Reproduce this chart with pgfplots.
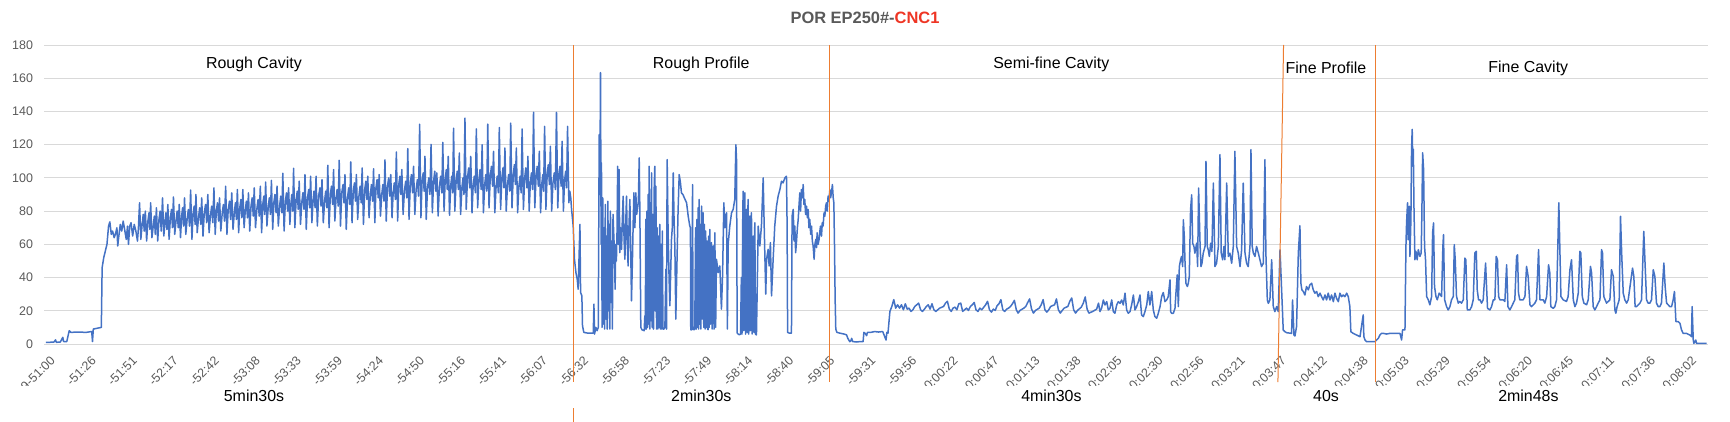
\documentclass[border=0pt]{standalone}
\usepackage{fontspec}
\setmainfont{Liberation Sans}
\usepackage{pgfplots}
\pgfplotsset{compat=1.18}
\definecolor{lineblue}{HTML}{4472C4}
\definecolor{sepor}{HTML}{ED7D31}
\definecolor{gridgray}{HTML}{D9D9D9}
\definecolor{tickgray}{HTML}{595959}
\definecolor{titlered}{HTML}{EE3524}
\begin{document}
\begin{tikzpicture}
\path[use as bounding box] (0,0) rectangle (1730bp,422bp);
\begin{axis}[
  at={(44bp,78bp)}, anchor=south west,
  scale only axis, width=1663.7bp, height=299bp,
  xmin=-1.2, xmax=1034.7, ymin=0, ymax=180,
  ytick={0,20,...,180},
  ymajorgrids, grid style={gridgray, line width=0.8bp},
  axis line style={draw=none},
  major tick length=0pt,
  tick label style={font=\fontsize{12.5}{14}\selectfont, text=tickgray},
  yticklabel style={xshift=-7.5bp},
  /pgf/number format/assume math mode=true,
  xtick={0,25.55,51.1,76.65,102.2,127.75,153.3,178.85,204.4,229.95,255.5,281.05,306.6,332.15,357.7,383.25,408.8,434.35,459.9,485.45,511,536.55,562.1,587.65,613.2,638.75,664.3,689.85,715.4,740.95,766.5,792.05,817.6,843.15,868.7,894.25,919.8,945.35,970.9,996.45,1022},
  xticklabels={9-51:00,-51:26,-51:51,-52:17,-52:42,-53:08,-53:33,-53:59,-54:24,-54:50,-55:16,-55:41,-56:07,-56:32,-56:58,-57:23,-57:49,-58:14,-58:40,-59:05,-59:31,-59:56,0:00:22,0:00:47,0:01:13,0:01:38,0:02:05,0:02:30,0:02:56,0:03:21,0:03:47,0:04:12,0:04:38,0:05:03,0:05:29,0:05:54,0:06:20,0:06:45,0:07:11,0:07:36,0:08:02},
  xticklabel style={rotate=45, anchor=east, xshift=-2bp, yshift=-15bp, font=\fontsize{12.5}{14}\selectfont, text=tickgray},
  clip=false,
]
\addplot[lineblue, line width=1.5bp, line join=round] coordinates {
(0,1) (2,1) (5,1.2) (6,2.5) (6.5,1) (9,1.2) (10.5,4) (11,1.5) (13,1.5) (14.5,8) (15.5,7) (20,7.2) (25,7) (28.5,7.5) (29,1.5) (29.5,9) (32,9.5) (34.5,10) (35,46) (36,52) (37,56) (38,60) (39,71) (39.8,73.5) (40.7,66) (41.5,68) (42.5,64) (43.5,67) (44.2,70) (44.7,59) (45.4,65) (46.3,72) (47.2,68) (48.1,74) (49,69) (50,63) (50.8,71) (51.4,60) (52.2,71) (53,73) (54,65) (55,72) (56,68) (57,62) (57.6,70)
(58.3,85) (59.1,63) (59.9,72) (60.6,78) (61.2,68) (61.9,80) (62.7,62) (63.5,74) (64.2,79) (64.7,69) (65.2,85) (66.0,64) (66.8,71) (67.5,77) (68.1,66) (68.8,82) (69.6,62) (70.4,75) (71.1,80) (71.8,68)
(72.6,88) (73.4,65) (74.1,73) (74.7,79) (75.3,69) (75.9,84) (76.7,63) (77.5,76) (78.2,81) (78.8,70) (79.4,88.5) (80.2,66) (81.0,74) (81.7,80) (82.4,70) (83.0,84) (83.8,64) (84.5,77) (85.1,82) (85.7,71)
(86.3,88) (87.1,66) (87.9,75) (88.7,81) (89.4,71) (90.1,92.7) (90.9,63) (91.6,78) (92.3,83) (92.9,72) (93.4,90) (94.2,67) (95.0,76) (95.7,82) (96.4,72) (97.0,88) (97.8,65) (98.6,79) (99.4,84) (100.1,73)
(100.8,90) (101.6,67) (102.4,77) (103.2,83) (103.9,73) (104.6,94) (105.4,66) (106.1,80) (106.8,85) (107.5,74) (108.1,88) (108.9,68) (109.7,78) (110.5,84) (111.2,74) (111.9,95) (112.7,66) (113.5,81) (114.3,86) (115.0,75)
(115.7,91) (116.5,69) (117.3,79) (118.0,85) (118.6,75) (119.2,93) (120.0,67) (120.7,82) (121.4,87) (122.0,76) (122.6,93) (123.4,70) (124.1,80) (124.8,86) (125.5,76) (126.1,91) (126.9,68) (127.7,83) (128.4,88) (129.1,77)
(129.7,94) (130.5,70) (131.3,81) (132.1,87) (132.8,77) (133.5,95) (134.3,67) (135.0,84) (135.7,89) (136.2,78) (136.8,97.5) (137.6,71) (138.4,82) (139.1,88) (139.8,78) (140.4,98.5) (141.2,69) (141.9,85) (142.6,90) (143.3,79)
(143.9,95) (144.7,71) (145.5,83) (146.2,89) (146.9,79) (147.5,102.8) (148.3,68) (149.1,86) (149.8,91) (150.5,80) (151.1,94) (151.9,72) (152.5,84) (153.1,90) (153.7,80) (154.2,105.8) (155.0,70) (155.8,87) (156.5,92) (157.1,81)
(157.7,98) (158.5,72) (159.3,85) (160.0,91) (160.7,81) (161.3,102) (162.1,69) (162.9,88) (163.6,93) (164.2,82) (164.8,101) (165.6,73) (166.3,86) (166.9,92) (167.6,82) (168.2,101) (169.0,71) (169.8,89) (170.6,94) (171.3,83)
(171.9,99) (172.7,73) (173.5,86) (174.2,92) (174.9,82) (175.5,107.6) (176.3,70) (177.1,90) (177.8,95) (178.5,84) (179.1,105) (179.9,74) (180.6,87) (181.3,93) (182.0,83) (182.6,110.6) (183.4,71) (184.2,91) (185.0,96) (185.6,85)
(186.2,102) (187.0,69) (187.8,88) (188.5,94) (189.2,84) (189.8,109.6) (190.6,73) (191.4,92) (192.1,97) (192.7,86) (193.3,102) (194.1,75) (194.9,89) (195.6,95) (196.3,85) (196.9,106) (197.7,72) (198.5,93) (199.2,98) (199.8,87)
(200.4,101) (201.2,76) (202.0,90) (202.7,96) (203.4,86) (204.0,105.5) (204.8,73) (205.5,94) (206.2,99) (206.9,88) (207.5,102) (208.3,77) (209.1,90) (209.8,96) (210.5,86) (211.1,110.8) (211.9,74) (212.7,95) (213.4,100) (214.1,89)
(214.7,102) (215.5,76) (216.2,91) (216.9,97) (217.6,87) (218.2,115.6) (219.0,74) (219.7,96) (220.4,101) (221.0,90) (221.6,105) (222.4,78) (223.2,92) (224.0,98) (224.7,88) (225.3,117.6) (226.1,75) (226.9,97) (227.6,102) (228.3,91)
(228.9,107) (229.7,78) (230.5,93) (231.3,99) (232.0,89) (232.7,132.3) (233.5,76) (234.2,98) (234.9,103) (235.5,92) (236.0,113) (236.8,75) (237.6,94) (238.4,100) (239.1,90) (239.8,120.2) (240.6,79) (241.4,98) (242.1,104) (242.8,92)
(243.4,103) (244.2,77) (245.0,95) (245.8,101) (246.5,91) (247.1,121.4) (247.9,80) (248.6,99) (249.3,105) (249.9,93) (250.5,113) (251.3,77.5) (252.0,95) (252.7,101) (253.3,91) (253.8,129.9) (254.6,80) (255.4,98) (256.1,104) (256.8,93)
(257.4,115) (258.2,78) (259.0,94) (259.7,100) (260.3,90) (260.9,136) (261.7,81) (262.5,100) (263.2,106) (263.9,94) (264.5,113) (265.3,79) (266.0,95) (266.7,101) (267.4,91) (268.0,129.5) (268.8,82) (269.6,99) (270.3,105) (271.0,93)
(271.6,120) (272.4,79) (273.2,96) (273.9,102) (274.5,92) (275.1,132.3) (275.9,82) (276.7,101) (277.4,107) (278.1,95) (278.7,116) (279.5,79) (280.3,95) (281.0,101) (281.7,91) (282.3,130.3) (283.1,81) (283.9,100) (284.6,106) (285.2,94)
(285.8,118) (286.6,80) (287.4,96) (288.1,102) (288.8,92) (289.4,133) (290.2,82) (291.0,102) (291.7,108) (292.3,96) (292.9,118) (293.7,79) (294.5,95) (295.2,101) (295.9,91) (296.5,129.5) (297.3,81) (298.1,100) (298.8,106) (299.5,94)
(300.1,113) (300.9,80) (301.6,97) (302.3,103) (303.0,93) (303.6,139.5) (304.4,82) (305.2,101) (305.9,107) (306.6,95) (307.2,116) (308.0,79) (308.7,96) (309.4,102) (309.9,92) (310.5,131) (311.3,81) (312.1,102) (312.8,108) (313.5,96)
(314.1,119) (314.9,80) (315.7,97) (316.5,103) (317.2,93) (317.9,139.5) (318.7,82) (319.4,101) (320.1,107) (320.8,95) (321.4,122) (322.2,80) (322.9,98) (323.6,104) (324.2,94) (324.8,131) (325.6,85) (326.2,92) (326.8,88) (327.3,81)
(328.3,71) (329.1,51) (330.0,43) (330.8,39) (331.4,33) (332.5,72) (332.9,31) (333.7,29) (334.1,11) (334.9,7) (337.6,6.5) (340.8,6.5) (341.2,24) (341.6,6) (342.4,10) (343.2,8) (343.9,10)
(344.5,126) (344.9,90) (345.3,163.4) (345.7,60) (345.9,109) (346.3,10) (346.7,88) (347.1,12) (347.5,70) (347.9,9) (348.3,84) (348.7,15) (349.1,65) (349.5,9) (349.9,86) (350.3,20) (350.7,72) (351.1,9) (351.5,80) (351.9,25) (352.3,62) (352.7,9) (353.1,78)
(353.6,65) (354.0,55) (354.4,33) (354.8,60) (355.2,50) (355.6,68) (356.0,107) (356.4,60) (356.9,105) (357.3,55) (357.8,70) (358.4,57) (358.9,75) (359.4,89) (360.0,62) (360.5,51) (361.0,72) (361.5,89) (362.0,60) (362.5,47) (363.0,70) (363.6,87) (364.1,58) (364.6,26) (365.2,51) (365.7,75) (366.1,91) (366.7,70) (367.3,91) (367.8,78) (368.3,81) (368.9,86) (369.4,112) (369.8,81) (370.4,10)
(371.2,8.5) (372.5,8) (372.9,17) (373.2,9) (373.5,75) (373.8,9) (374.2,80) (374.6,10) (375.0,90) (375.3,12) (375.6,107) (376.0,9) (376.4,85) (376.7,14) (377.1,103) (377.5,10) (377.9,78) (378.3,9) (378.7,92) (379.1,107) (379.4,20) (379.8,95) (380.2,9) (380.6,70) (381.0,9) (381.4,65) (381.8,10) (382.2,72) (382.6,9) (383.0,60) (383.4,9) (383.8,68) (384.2,9) (384.8,9) (385.4,10) (386.0,45) (386.4,9)
(386.8,111) (387.4,67) (388.0,40) (388.5,23) (389.5,63) (390.0,70) (390.6,103) (391.1,75) (391.6,59) (392.2,15) (393.0,53) (393.6,80) (394.3,102) (395.1,97) (395.7,91) (396.6,90) (397.5,88) (398.9,85) (399.9,77) (400.9,71) (401.3,70) (401.5,8.6)
(402.0,8.5) (402.4,9) (402.6,96) (402.9,9) (403.5,8.5) (404.0,9) (404.5,70) (404.9,9) (405.3,75) (405.7,10) (406.1,82) (406.4,9) (406.7,87) (407.1,12) (407.5,72) (407.8,9) (408.2,83) (408.6,15) (408.9,70) (409.2,79) (409.6,10) (410.0,72) (410.4,9) (410.8,68) (411.3,10) (411.7,62) (412.0,9) (412.3,8.6) (412.7,65) (413.0,10) (413.4,69) (413.8,12) (414.1,58) (414.4,61) (414.8,9) (415.1,55) (415.5,59)
(416.0,9) (416.5,67) (417.0,10) (417.5,51) (418.6,43) (419.6,47) (420.6,21) (421.3,41) (422.1,85) (422.7,70) (423.3,77) (423.8,79) (424.3,9) (424.8,60) (425.8,71) (426.9,79) (427.9,81) (428.9,87) (429.6,120) (430.0,111) (430.4,6.6)
(431.0,6) (431.8,5.5) (432.5,6) (433.0,40) (433.4,6) (433.8,70) (434.1,92) (434.5,8) (434.9,75) (435.2,91) (435.6,6) (435.9,60) (436.2,81) (436.6,7) (436.9,70) (437.2,87) (437.6,6) (438.0,65) (438.3,77) (438.7,8) (439.0,70) (439.3,79) (439.7,6) (440.1,55) (440.4,65) (440.8,7) (441.1,60) (441.4,73) (441.8,6) (442.4,5.5)
(443.0,40) (443.5,71) (444.5,59) (445.5,71) (446.6,100) (447.0,81) (447.6,55) (448.2,30) (448.7,51) (449.7,57) (450.3,47) (451.1,61) (451.8,29) (452.8,51) (453.8,71) (454.9,83) (455.9,89) (457.0,93) (458.0,98) (459.0,97) (460.1,100) (461.1,101) (461.5,71) (461.8,7) (463.0,6.5) (464.2,6.6)
(464.6,77) (465.3,81) (465.8,62) (466.3,71) (466.8,55) (467.3,61) (467.9,70) (468.4,75) (469.0,85) (469.4,91) (469.9,80) (470.4,93) (471.0,88) (471.5,96) (472.0,84) (472.5,87) (473.0,78) (473.6,83) (474.1,76) (474.6,81) (475.1,70) (475.6,75) (476.2,66) (476.7,71) (477.2,62) (477.7,59) (478.3,51) (478.8,60) (479.4,63) (479.8,58) (480.2,67) (480.8,60) (481.4,63) (481.9,68) (482.3,71) (482.9,65) (483.4,73) (483.9,71) (484.5,79) (485.0,77) (485.5,83) (486.0,85) (486.5,80) (487.0,89) (487.5,86) (488.1,93) (488.6,88) (489.1,91) (489.7,96) (490.2,88) (490.6,85) (491.0,60) (491.4,27) (491.8,9)
(492.5,7) (494.5,6.5) (496.9,6) (498.5,5.5) (499.3,3.4) (500.5,1.4) (501.2,2) (501.7,3.4) (502.3,1.5) (502.9,1.4) (505,1.2) (507,1.5) (508.8,1.4) (509.3,7) (510,6.5) (511,5) (511.5,7) (513.6,7) (516,7.5) (518.4,7.2) (521,7.5) (523.1,2.4) (523.6,7) (524.3,6.5) (525.5,19.6)
(526.7,22.6) (527.9,26.7) (529.1,21.6) (530.3,23.6) (531.5,21.6) (532.7,23.6) (533.9,20.6) (535.1,24.2) (536.3,21.0) (537.4,21.6) (538.6,19.6) (539.8,20.6) (541.0,22.6) (542.2,23.6) (543.4,24.6) (544.6,20.6) (545.8,19.6) (547.0,21.0) (548.2,22.6) (549.4,23.6) (550.5,21.0) (551.7,24.2) (552.9,20.6) (554.1,19.6) (556.5,21.6) (558.9,22.6) (560.1,24.6) (561.3,25.7) (562.5,21.0) (563.7,19.6) (564.8,21.6) (566.0,22.2) (567.2,20.6) (568.4,24.2) (569.6,24.6) (570.8,19.6)
(572.0,20.6) (573.2,21.6) (574.4,20.2) (575.6,22.6) (576.8,23.6) (578.0,25.0) (579.1,20.6) (580.3,19.6) (581.5,21.6) (582.7,20.6) (585.1,23.6) (586.3,25.7) (587.5,20.6) (588.7,19.2) (589.9,21.0) (591.1,20.2) (592.2,23.0) (593.4,24.2) (594.6,26.7) (595.8,20.6) (597.0,19.6) (598.2,21.0) (599.4,21.6) (600.6,22.6) (601.8,24.2) (603.0,26.3) (604.2,20.6) (605.3,18.6) (606.5,20.2) (608.9,21.6) (610.1,22.6) (611.3,25.0) (612.5,27.1) (613.7,21.0) (614.9,18.6)
(616.1,20.2) (618.5,21.6) (619.7,23.6) (620.9,26.7) (622.0,20.6) (623.2,19.2) (624.4,20.6) (625.6,22.6) (628.0,23.6) (629.2,27.1) (630.4,20.6) (631.6,18.6) (632.8,20.2) (634.0,21.6) (636.3,22.6) (637.5,25.7) (638.7,27.7) (639.9,20.6) (641.1,18.6) (642.3,20.2) (644.7,22.2) (645.9,24.6) (647.1,28.3) (648.3,21.0) (649.4,18.6) (651.8,19.6) (654.2,21.0) (655.4,24.6)
(656.3,19.5) (657.3,21.5) (658.4,26.5) (659.4,23.5) (660.5,25.5) (661.5,20.5) (662.5,21.5) (663.6,26.5) (664.6,19.5) (665.6,18.5) (666.7,23.5) (667.7,25.5) (668.8,24.5) (669.8,26.5) (670.8,23.5) (671.9,30.6) (672.9,20.5) (673.9,18.5) (675.0,19.5) (676.0,23.5) (677.1,29.5) (678.1,20.5) (679.1,22.5) (680.2,25.5) (681.2,29.5) (682.2,17.5) (683.3,16.5) (684.3,19.5) (685.4,23.5) (686.4,31.6) (687.4,23.5) (688.5,31.6) (689.5,20.5) (690.5,16.5) (691.6,15.5) (692.6,18.5) (693.7,22.5) (694.7,28.5) (695.7,31) (696.8,25.5) (697.8,26.5) (698.8,28.5) (699.9,38.6) (700.3,19.5) (700.9,18.5) (702.0,18.5) (703.0,21.5) (703.6,30.6) (704.4,41.6) (705.1,22.5) (705.7,46.6) (706.5,50.7) (707.1,52.7) (707.8,46.6)
(708.2,74.8) (708.8,64.7) (709.2,50.7) (709.8,36.6) (710.7,34.6) (711.3,36.6) (711.9,40.6) (712.7,80.8) (713.4,89.8) (714.0,60.7) (714.8,58.7) (715.4,54.7) (716.5,60.7) (717.1,46.6) (717.7,93.9) (718.6,60.7) (719.2,46.6) (719.8,48.6) (720.6,54.7) (721.7,58.7) (722.3,110) (723.1,58.7) (723.7,56.7) (724.4,52.7) (725.2,60.7) (726.0,55.7) (726.9,96.9) (727.9,46.6) (728.9,48.6) (730.0,58.7) (731.0,114) (731.8,54.7) (732.7,50.7) (733.5,58.7) (734.1,50.7) (735.2,96.9) (736.2,52.7) (737.2,54.7) (738.3,48.6) (739.3,58.7) (740.3,116) (741.4,58.7) (742.4,54.7) (743.5,46.6) (744.5,56.7) (745.5,96.9) (746.6,54.7) (747.6,48.6) (748.6,46.6) (749.7,58.7) (750.3,117) (751.1,58.7) (751.8,54.7) (752.8,52.7) (753.8,58.7) (754.9,54.7) (755.9,50.7) (756.9,46.6) (758.0,48.6) (759.0,111) (759.6,54.7)
(760.5,26.5) (761.1,24.5) (762.1,26.5) (763.2,50.7) (764.2,22.5) (765.2,19.5) (766.3,22.5) (767.3,19.5) (768.4,56.7) (769.4,32.6) (770.4,8.4) (771.5,7.4) (772.5,6.8) (775.6,6.4) (776.2,26.5) (777.1,5.4) (777.7,4.8) (778.7,10.5) (779.8,54.7) (780.8,71.2) (781.4,36.6) (782.0,32.6) (782.9,31.6) (783.9,29.5) (784.9,34.6) (786.0,32.6) (787.0,35.6) (788.1,36.6) (789.1,32.6) (790.1,30.6) (791.2,31.6) (792.2,28.5) (793.3,30.6) (794.3,28.5) (795.3,26.5) (796.4,29.5) (797.4,26.5) (798.4,30.6) (799.5,26.5) (800.5,29.5) (801.6,25.5) (802.6,30.6) (803.6,27.5) (804.7,25.5) (805.7,30.6) (806.7,28.5) (807.8,29.5) (808.8,28.5) (809.9,30.6) (810.9,28.5) (811.9,22.5) (812.5,7.4) (814.0,6.4) (816.1,5.4) (818.2,4.4) (820.2,17.5) (820.6,4.4) (821.3,2.4) (822.3,1.4) (827.5,1.4) (828.5,2.4) (829.6,3.4) (830.6,5.4) (831.6,6.4) (832.7,6.4)
(834.8,6.0) (836.8,6.4) (843.1,6.4) (844.1,2.4) (844.7,8.5) (846.2,8.5) (846.8,58.8) (847.2,72.9) (847.8,85) (848.2,62.8) (848.9,82.9) (849.3,52.7) (849.9,74.9) (850.3,117.2) (850.7,129.2) (851.1,107.1) (851.4,117.2) (851.8,82.9) (852.4,50.7) (853.0,55.8) (853.8,50.7) (854.5,56.8) (855.5,52.7) (856.3,54.8) (856.7,76.9) (857.2,115.1) (857.8,105.1) (858.4,58.8) (859.0,50.7) (859.7,28.6)
(860.7,26.6) (861.7,23.6) (862.8,28.6) (863.4,66.8) (864.0,72.9) (864.6,34.6) (865.5,28.6) (866.3,26.6) (867.5,30.6) (869.0,28.6) (869.8,58.8) (870.2,65.8) (870.9,26.6) (872.1,22.5) (873.1,20.5) (874.2,22.5) (875.2,26.6) (876.3,28.6) (876.9,59.8) (877.5,50.7) (878.3,28.6) (879.4,24.6) (880.4,25.6) (881.4,24.6) (882.5,26.6) (883.5,51.7) (884.1,50.7) (885.0,20.5) (886.6,20.5) (887.7,22.5) (888.7,26.6) (889.7,54.8) (890.6,55.8) (891.2,32.6) (892.0,26.6) (892.9,26.6) (893.9,24.6) (894.9,26.6) (896.4,48.7) (897.0,34.6) (897.6,21.5) (899.1,20.5)
(900.1,22.5) (901.2,26.6) (902.2,26.6) (903.0,52.7) (903.8,50.7) (904.5,28.6) (905.3,26.6) (907.4,26.6) (908.4,25.6) (909.5,47.7) (910.3,22.5) (911.5,20.5) (912.6,22.5) (913.6,24.6) (914.6,26.6) (915.7,52.7) (916.3,53.7) (916.9,30.6) (917.7,26.6) (918.8,26.6) (919.8,26.6) (920.9,28.6) (921.9,46.7) (922.9,40.7) (924.0,23.6) (925.0,22.5) (926.1,23.6) (927.1,24.6) (928.1,26.6) (929.4,56.8) (930.2,26.6) (931.2,26.6) (932.3,26.6) (933.3,24.6) (934.4,28.6) (935.6,47.7) (936.4,42.7) (937.0,22.5) (938.5,21.5) (939.5,22.5)
(940.6,26.6) (942.0,85) (942.7,54.8) (943.3,28.6) (944.7,26.6) (946.8,25.6) (947.8,28.6) (948.9,44.7) (949.9,50.7) (951.0,26.6) (952.0,22.5) (953.0,24.6) (954.1,30.6) (955.1,55.8) (955.7,54.8) (956.6,28.6) (957.6,24.6) (959.3,23.6) (960.3,26.6) (961.7,46.7) (962.4,42.7) (963.4,22.5) (964.4,20.5) (965.5,22.5) (966.5,24.6) (967.6,26.6) (968.6,56.8) (969.2,54.8) (970.0,28.6) (971.7,24.6) (973.8,26.6) (974.8,44.7) (975.9,40.7) (976.9,20.5) (977.5,18.5) (978.3,22.5) (979.6,26.6)
(980.4,76.9) (981.2,52.7) (982.1,30.6) (983.1,26.6) (984.2,24.6) (985.2,26.6) (987.9,45.7) (988.7,40.7) (989.5,22.5) (990.4,22.5) (992.5,24.6) (993.5,26.6) (994.9,67.8) (995.6,50.7) (996.6,26.6) (997.6,24.6) (998.7,24.6) (999.7,26.6) (1000.8,44.7) (1001.8,40.7) (1002.8,24.6) (1003.9,22.5) (1004.9,22.5) (1005.9,24.6) (1007.4,48.7) (1008.2,34.6) (1009.1,24.6) (1010.1,23.6) (1011.1,22.5) (1012.2,22.5) (1013.2,26.6) (1014.0,31.6) (1014.9,13.5) (1016.3,13.5) (1017.4,12.5) (1018.4,8.5) (1019.4,6.4) (1021.5,6.4) (1023.6,5.4) (1024.6,4.4) (1025.0,22.5) (1025.7,2.4) (1026.1,0.4) (1027.3,2.4) (1027.7,0.4) (1034.0,0.4)
};
% phase separators
\draw[sepor, line width=1bp] (axis cs:328.3,180) -- (axis cs:328.3,-22.9);
\draw[sepor, line width=1bp] (axis cs:488.1,180) -- (axis cs:488.1,-22.9);
\draw[sepor, line width=1bp] (axis cs:770.6,180) -- (axis cs:767.1,-22.9);
\draw[sepor, line width=1bp] (axis cs:828.1,180) -- (axis cs:828.1,-22.9);
% phase names
\begin{scope}[every node/.style={font=\fontsize{16}{18}\selectfont, text=black, inner sep=0pt}]
\node at (axis cs:129.5,168.6) {Rough Cavity};
\node at (axis cs:408,168.6) {Rough Profile};
\node at (axis cs:626,168.6) {Semi-fine Cavity};
\node at (axis cs:797,166) {Fine Profile};
\node at (axis cs:923,166) {Fine Cavity};
\end{scope}
\end{axis}
% the tick labels are cut off at a fixed height, as in the reference
\fill[white] (0,0) rectangle (1730bp,36bp);
\draw[sepor, line width=1bp] (573.2bp,0) -- (573.2bp,14bp);
\begin{scope}[every node/.style={font=\fontsize{16}{18}\selectfont, text=black, inner sep=0pt}]
\node at (254bp,26bp) {5min30s};
\node at (701.3bp,26bp) {2min30s};
\node at (1051.4bp,26bp) {4min30s};
\node at (1326bp,26bp) {40s};
\node at (1528.4bp,26bp) {2min48s};
\end{scope}
\node[font=\bfseries\fontsize{16.5}{19}\selectfont, text=tickgray, inner sep=0pt] at (865bp,404bp) {POR EP250\#-\textcolor{titlered}{CNC1}};
\end{tikzpicture}
\end{document}
